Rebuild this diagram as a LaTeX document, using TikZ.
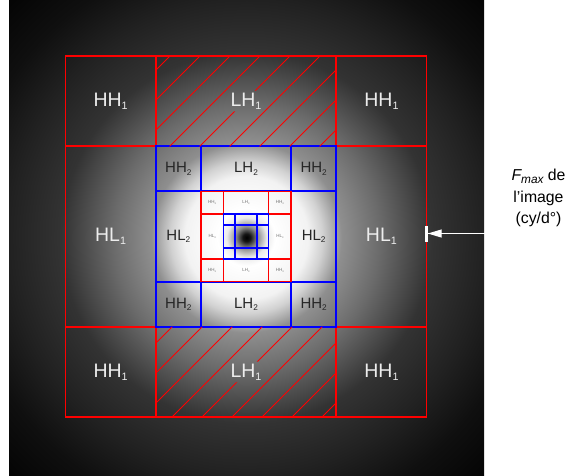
\documentclass[tikz,border=0pt]{standalone}
\usepackage{fontspec}
\setmainfont{Liberation Sans}
\usetikzlibrary{arrows.meta}

% 频谱背景的径向渐变
\pgfdeclareradialshading{spectre}{\pgfpoint{0bp}{0bp}}{%
  color(0bp)=(black); color(0.4bp)=(white!8!black); color(1.15bp)=(white!55!black);
  color(2.1bp)=(white!92!black); color(3bp)=(white); color(6.5bp)=(white!95!black);
  color(8bp)=(white!82!black); color(10bp)=(white!56!black); color(14bp)=(white!42!black);
  color(19.5bp)=(white!20!black); color(25bp)=(white!13!black); color(30bp)=(white!6!black);
  color(35bp)=(white!2!black); color(50bp)=(black)}

\newcommand{\indice}[2][0.55]{\raisebox{-0.15em}{\scalebox{#1}{#2}}}

\begin{document}
\begin{tikzpicture}[x=1pt,y=-1pt,
    bande1/.style={text=white!93!black, font=\fontsize{19.5}{20}\selectfont, inner sep=0pt},
    bande2/.style={text=black!85, font=\fontsize{15}{16}\selectfont, inner sep=0pt},
    bande3/.style={text=black!55, font=\fontsize{4.5}{5}\selectfont, inner sep=0pt},
    hachure/.style={red, line width=1pt}]
  \useasboundingbox (0,0) rectangle (569,475);

  % 频谱图像
  \shade[shading=spectre] (9,0) rectangle (484,475);

  \begin{scope}[shift={(246,236.5)}]

    % 四层小波分解的网格 (红/蓝交替)
    \foreach \a/\c/\w in {180.5/red/1.7pt, 90.25/blue/1.8pt, 45.125/red/1.6pt, 22.5625/blue/1.6pt} {
      \draw[\c, line width=\w] (-\a,-\a) rectangle (\a,\a);
      \draw[\c, line width=\w] ({-\a/2},-\a) -- ({-\a/2},\a) ({\a/2},-\a) -- ({\a/2},\a);
      \draw[\c, line width=\w] (-\a,{-\a/2}) -- (\a,{-\a/2}) (-\a,{\a/2}) -- (\a,{\a/2});
    }

    % 第一层标签
    \node[bande1] (hh1a) at (-135.4,-135.4) {HH\indice{1}};
    \node[bande1] (lh1a) at (0,-135.4) {LH\indice{1}};
    \node[bande1] (hh1b) at (135.4,-135.4) {HH\indice{1}};
    \node[bande1] (hl1a) at (-135.4,0) {HL\indice{1}};
    \node[bande1] (hl1b) at (135.4,0) {HL\indice{1}};
    \node[bande1] (hh1c) at (-135.4,135.4) {HH\indice{1}};
    \node[bande1] (lh1b) at (0,135.4) {LH\indice{1}};
    \node[bande1] (hh1d) at (135.4,135.4) {HH\indice{1}};

    % 第二层和第三层标签
    \foreach \r/\s/\k in {67.7/bande2/2, 33.85/bande3/3} {
      \node[\s] (hh\k a) at (-\r,-\r) {HH\indice{\k}};
      \node[\s] (lh\k a) at (0,-\r) {LH\indice{\k}};
      \node[\s] (hh\k b) at (\r,-\r) {HH\indice{\k}};
      \node[\s] (hl\k a) at (-\r,0) {HL\indice{\k}};
      \node[\s] (hl\k b) at (\r,0) {HL\indice{\k}};
      \node[\s] (hh\k c) at (-\r,\r) {HH\indice{\k}};
      \node[\s] (lh\k b) at (0,\r) {LH\indice{\k}};
      \node[\s] (hh\k d) at (\r,\r) {HH\indice{\k}};
    }

    % LH1 区域的斜线 (在标签处留空)
    \begin{scope}
      \clip (-90.25,-180.5) rectangle (90.25,-90.25)
        ([shift={(2,-2)}]lh1a.north east) rectangle ([shift={(-2,2)}]lh1a.south west);
      \foreach \k in {0,...,8}
        \draw[hachure] ({-256.5+30*\k+200},-200) -- ({-256.5+30*\k-200},200);
    \end{scope}
    \begin{scope}
      \clip (-90.25,90.25) rectangle (90.25,180.5)
        ([shift={(2,-2)}]lh1b.north east) rectangle ([shift={(-2,2)}]lh1b.south west);
      \foreach \k in {0,...,8}
        \draw[hachure] ({16.5+30*\k+200},-200) -- ({16.5+30*\k-200},200);
    \end{scope}

  \end{scope}

  % 右侧说明和箭头
  \node[font=\fontsize{15.8}{21.4}\selectfont, align=center, inner sep=0pt] (fmax) at (538.5,198)
    {\textit{F\indice[0.75]{max}} de\\l’image\\(cy/d°)};
  \coordinate (fmaxtip) at (425.3,233.5);
  \draw[white, line width=1.2pt,
    -{Triangle[width=8pt,length=14pt,sep=0pt]Bar[width=16pt,line width=2.4pt]}]
    (fmax.west |- fmaxtip) -- (fmaxtip);

\end{tikzpicture}
\end{document}
